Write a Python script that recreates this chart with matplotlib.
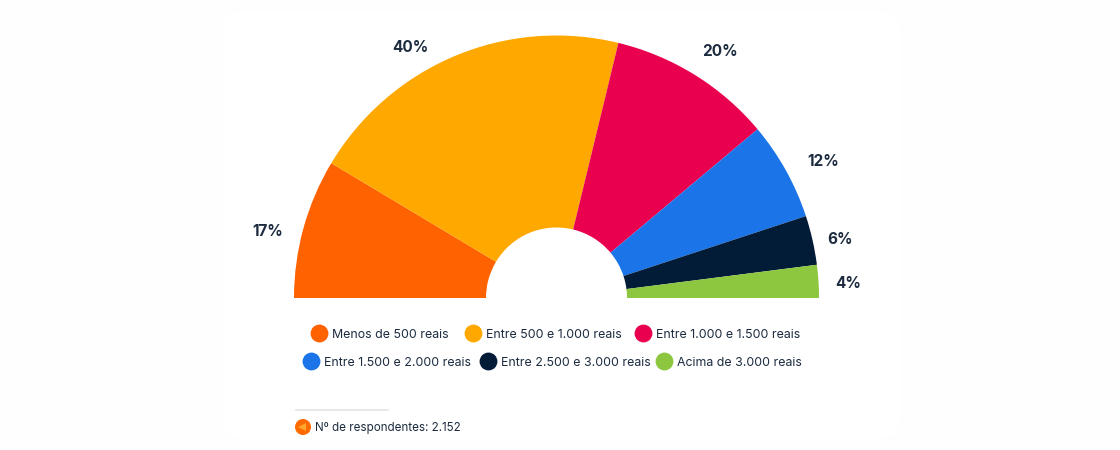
import matplotlib
matplotlib.use("Agg")
import matplotlib.pyplot as plt
from matplotlib.patches import Circle, FancyBboxPatch, Polygon

categories = [
    "Menos de 500 reais",
    "Entre 500 e 1.000 reais",
    "Entre 1.000 e 1.500 reais",
    "Entre 1.500 e 2.000 reais",
    "Entre 2.500 e 3.000 reais",
    "Acima de 3.000 reais",
]
values = [17, 40, 20, 12, 6, 4]
colors = ["#FF6200", "#FFA800", "#E9004F", "#1B74E8", "#021B36", "#8DC63F"]
pct_labels = ["17%", "40%", "20%", "12%", "6%", "4%"]
respondents = "Nº de respondentes: 2.152"

INK = "#1C2B3F"
HEIGHT = 450

plt.rcParams["font.family"] = ["Inter", "DejaVu Sans"]

fig = plt.figure(figsize=(11.2, 4.5), dpi=100, facecolor="#FEFEFE")
ax = fig.add_axes([0, 0, 1, 1])

card = FancyBboxPatch((222, 12), 678, 426, boxstyle="round,pad=0,rounding_size=16",
                      facecolor="white", edgecolor="none", zorder=0)
ax.add_patch(card)

# hidden second half turns the pie into a half donut
ax.pie(
    values + [sum(values)],
    colors=colors + ["none"],
    startangle=180,
    counterclock=False,
    radius=262.5,
    center=(556.5, HEIGHT - 298),
    wedgeprops={"width": 192, "linewidth": 0},
    frame=False,
)
ax.set_xlim(0, 1120)
ax.set_ylim(0, HEIGHT)
ax.set_aspect("auto")
ax.axis("off")

label_pos = [(268, 231), (410, 47), (720, 52), (823, 161), (840, 240), (848, 284)]
for text, (x, y) in zip(pct_labels, label_pos):
    ax.text(x, HEIGHT - y, text, ha="center", va="center", fontsize=11, fontweight="bold", color=INK)

legend_pos = [(319, 333), (473, 333), (643, 333), (311, 361), (488, 361), (664, 361)]
for name, color, (x, y) in zip(categories, colors, legend_pos):
    ax.scatter([x], [HEIGHT - y], s=165, color=color, linewidths=0, clip_on=False)
    ax.text(x + 13, HEIGHT - y + 0.0, name, ha="left", va="center_baseline", fontsize=8.9, color=INK)

# source note
ax.plot([296, 388], [HEIGHT - 410, HEIGHT - 410], color="#E4E4E4", linewidth=1.2)
ax.add_patch(Circle((303, HEIGHT - 427), 8, facecolor="#FF6A00", edgecolor="none"))
ax.add_patch(Polygon([(298, HEIGHT - 427), (306, HEIGHT - 423), (306, HEIGHT - 431)],
                     closed=True, facecolor="#FFA62B", edgecolor="none"))
ax.text(315, HEIGHT - 427, respondents, ha="left", va="center_baseline", fontsize=8.35, color=INK)

fig.savefig("out.png", dpi=100, facecolor=fig.get_facecolor())
